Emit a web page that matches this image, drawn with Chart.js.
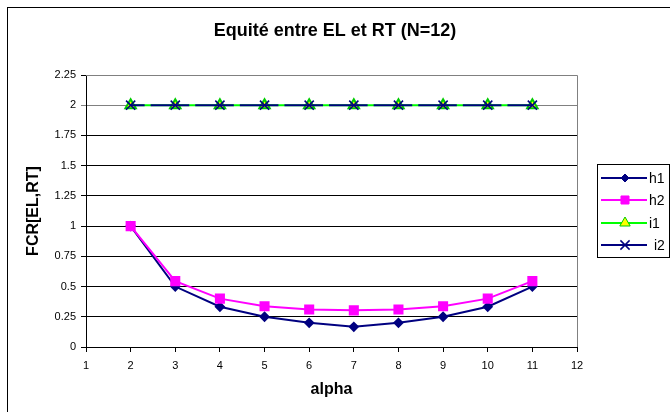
<!DOCTYPE html>
<html>
<head>
<meta charset="utf-8">
<script src="https://cdn.jsdelivr.net/npm/chart.js@4"></script>
<style>
  html, body { margin: 0; padding: 0; background: #fff; }
  #wrap { width: 670px; height: 412px; }
</style>
</head>
<body>
<div id="wrap"><canvas id="myChart" width="670" height="412"></canvas></div>
<script>
const alpha = [2, 3, 4, 5, 6, 7, 8, 9, 10, 11];
const h1 = [1, 0.5, 0.333, 0.25, 0.2, 0.167, 0.2, 0.25, 0.333, 0.5];
const h2 = [1, 0.545, 0.4, 0.337, 0.31, 0.303, 0.31, 0.337, 0.4, 0.545];
const i1 = [2, 2, 2, 2, 2, 2, 2, 2, 2, 2];
const i2 = [2, 2, 2, 2, 2, 2, 2, 2, 2, 2];
const xTicks = [1, 2, 3, 4, 5, 6, 7, 8, 9, 10, 11, 12];
const yTicks = [0, 0.25, 0.5, 0.75, 1, 1.25, 1.5, 1.75, 2, 2.25];

const pts = arr => arr.map((v, k) => ({ x: alpha[k], y: v }));
const FONT = 'Liberation Sans, Arial, sans-serif';

// frame, plot border and boxed legend like the Excel original
const decor = {
  id: 'decor',
  beforeDraw(chart) {
    const c = chart.ctx;
    c.save();
    c.fillStyle = '#fff';
    c.fillRect(0, 0, chart.width, chart.height);
    c.restore();
  },
  afterDraw(chart) {
    const c = chart.ctx, a = chart.chartArea;
    c.save();
    c.strokeStyle = '#000';
    c.lineWidth = 1;
    c.strokeRect(7.5, 7.5, 700, 700);
    c.strokeStyle = '#808080';
    c.beginPath();
    c.moveTo(a.left, a.top + 0.5);
    c.lineTo(a.right + 0.5, a.top + 0.5);
    c.lineTo(a.right + 0.5, a.bottom);
    c.stroke();

    // legend
    c.strokeStyle = '#000';
    c.lineWidth = 1;
    c.strokeRect(597.5, 164.5, 72, 93);
    c.font = '14px ' + FONT;
    c.textBaseline = 'middle';
    const ys = [178, 200, 223, 245];
    chart.data.datasets.forEach((ds, k) => {
      const y = ys[k];
      c.strokeStyle = ds.borderColor;
      c.lineWidth = 2;
      c.beginPath();
      c.moveTo(601, y);
      c.lineTo(647, y);
      c.stroke();
      c.fillStyle = ds.pointBackgroundColor;
      c.strokeStyle = ds.pointBorderColor;
      c.lineWidth = ds.pointBorderWidth || 1;
      Chart.helpers.drawPoint(c, {
        pointStyle: ds.pointStyle,
        radius: ds.pointRadius,
        borderWidth: ds.pointBorderWidth || 1
      }, 625, y);
      c.fillStyle = '#000';
      c.fillText(ds.label, k === 3 ? 654 : 649, y + 1);
    });
    c.restore();
  }
};

new Chart(document.getElementById('myChart').getContext('2d'), {
  type: 'line',
  data: {
    datasets: [{
      label: 'h1',
      data: pts(h1),
      borderColor: '#000080',
      borderWidth: 2,
      pointStyle: 'rectRot',
      pointRadius: 4,
      pointBackgroundColor: '#000080',
      pointBorderColor: '#000080',
      order: 1
    }, {
      label: 'h2',
      data: pts(h2),
      borderColor: '#ff00ff',
      borderWidth: 2,
      pointStyle: 'rect',
      pointRadius: 5.7,
      pointBackgroundColor: '#ff00ff',
      pointBorderColor: '#ff00ff',
      order: 0
    }, {
      label: 'i1',
      data: pts(i1),
      borderColor: '#00ff00',
      borderWidth: 2,
      pointStyle: 'triangle',
      pointRadius: 6,
      pointBackgroundColor: '#ffff00',
      pointBorderColor: '#00cc00',
      order: 1
    }, {
      label: 'i2',
      data: pts(i2),
      borderColor: '#000080',
      borderWidth: 2,
      borderDash: [38.6, 6],
      borderDashOffset: 24.6,
      pointStyle: 'crossRot',
      pointRadius: 6.5,
      pointBorderWidth: 1.5,
      pointBackgroundColor: '#000080',
      pointBorderColor: '#000080',
      order: 0
    }]
  },
  options: {
    responsive: false,
    animation: false,
    layout: { padding: 0 },
    plugins: {
      legend: { display: false },
      tooltip: { enabled: false },
      title: {
        display: true,
        text: 'Equité entre EL et RT (N=12)',
        color: '#000',
        font: { family: FONT, size: 18, weight: 'bold' },
        padding: { top: 20, bottom: 33.4 }
      }
    },
    scales: {
      x: {
        type: 'linear',
        min: 1,
        max: 12,
        afterFit: s => { s.height = 65; },
        afterBuildTicks: s => { s.ticks = xTicks.map(v => ({ value: v })); },
        ticks: { color: '#000', font: { family: FONT, size: 11 }, padding: 7, maxRotation: 0, callback: v => String(v) },
        grid: { drawOnChartArea: false, drawTicks: true, tickLength: 5, color: '#000' },
        border: { color: '#000' },
        title: {
          display: true,
          text: 'alpha',
          color: '#000',
          font: { family: FONT, size: 16, weight: 'bold' },
          padding: { top: 0, bottom: 12.4 }
        }
      },
      y: {
        min: 0,
        max: 2.25,
        afterFit: s => { s.width = 86; },
        afterBuildTicks: s => { s.ticks = yTicks.map(v => ({ value: v })); },
        ticks: { color: '#000', font: { family: FONT, size: 11 }, padding: 5, callback: v => String(v) },
        grid: { color: ctx => (ctx.tick && ctx.tick.value === 2 ? '#808080' : '#000'), tickLength: 5 },
        border: { color: '#000' },
        title: {
          display: true,
          text: 'FCR[EL,RT]',
          color: '#000',
          font: { family: FONT, size: 16, weight: 'bold' },
          padding: { top: 24.4, bottom: 0 }
        }
      },
      side: {
        position: 'right',
        afterFit: s => { s.width = 93; },
        ticks: { display: false },
        grid: { display: false },
        border: { display: false }
      }
    }
  },
  plugins: [decor]
});
</script>
</body>
</html>
